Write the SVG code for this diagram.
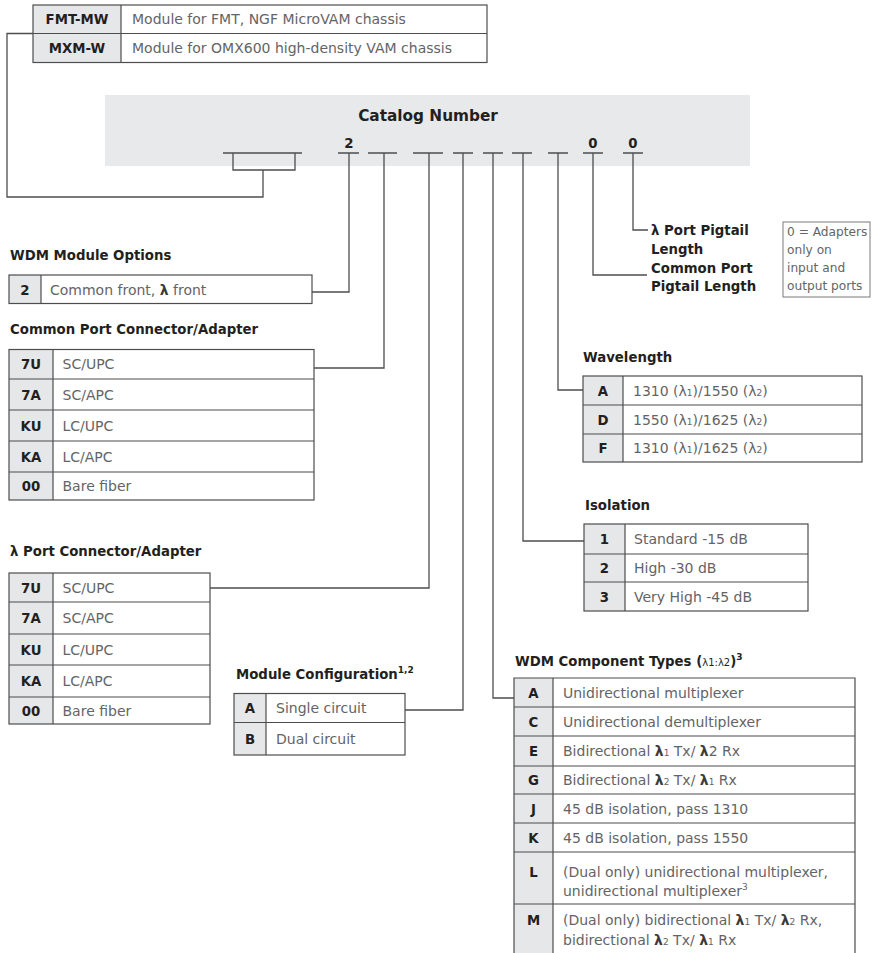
<svg xmlns="http://www.w3.org/2000/svg" width="877" height="953" viewBox="0 0 877 953">
<style>
text { font-family: "DejaVu Sans", "Liberation Sans", sans-serif; }
.h { font-weight: bold; font-size: 13.3px; fill: #231f20; }
.c { font-weight: bold; font-size: 13.3px; fill: #231f20; text-anchor: middle; }
.d { font-size: 14px; fill: #636466; }
.n { font-size: 12.2px; fill: #636466; }
.b { font-weight: bold; fill: #3a3a3a; }
.s { font-size: 9px; }
.tb { fill: none; stroke: #4d4d4d; stroke-width: 1.2; }
.cc { fill: #e6e7e8; }
.ln { fill: none; stroke: #4d4d4d; stroke-width: 1.3; }
</style>
<rect width="877" height="953" fill="#ffffff"/>

<g id="chassis">
<rect class="cc" x="33" y="5" width="88" height="57.5"/>
<rect class="tb" x="33" y="5" width="454" height="57.5"/>
<path class="tb" d="M33,33.5H487M121,5V62.5"/>
<text class="c" x="77" y="24">FMT-MW</text>
<text class="d" x="132" y="24">Module for FMT, NGF MicroVAM chassis</text>
<text class="c" x="77" y="53">MXM-W</text>
<text class="d" x="132" y="53">Module for OMX600 high-density VAM chassis</text>
</g>

<g id="catalog">
<rect x="105" y="95" width="645" height="71" fill="#e8e9ea"/>
<text class="h" x="428" y="121" text-anchor="middle" style="font-size:15.3px">Catalog Number</text>
<text class="c" x="349" y="148">2</text>
<text class="c" x="593" y="148">0</text>
<text class="c" x="633" y="148">0</text>
</g>

<g id="connectors" class="ln">
<path d="M223,153H302M233,153V170H295V153M263,170V197H7V33.5H33"/>
<path d="M338,153H359M349,153V292H312"/>
<path d="M368,153H397M384,153V368H314"/>
<path d="M413,153H443M429,153V588H210"/>
<path d="M453,153H473M463,153V710H405"/>
<path d="M483,153H503M493,153V698H514"/>
<path d="M512,153H532M523,153V541H584"/>
<path d="M548,153H568M558,153V390H583"/>
<path d="M583,153H603M593,153V275H647"/>
<path d="M623,153H643M633,153V230H648"/>
</g>

<g id="pigtail">
<text class="h" x="651" y="235">λ Port Pigtail</text>
<text class="h" x="651" y="254">Length</text>
<text class="h" x="651" y="273">Common Port</text>
<text class="h" x="651" y="291">Pigtail Length</text>
</g>

<g id="note">
<rect x="783" y="222" width="87" height="75" fill="none" stroke="#7a7a7a" stroke-width="1"/>
<text class="n" x="787" y="236">0 = Adapters</text>
<text class="n" x="787" y="254">only on</text>
<text class="n" x="787" y="272">input and</text>
<text class="n" x="787" y="290">output ports</text>
</g>

<g id="wdm-options">
<text class="h" x="10" y="260">WDM Module Options</text>
<rect class="cc" x="9" y="275" width="32" height="28.5"/>
<rect class="tb" x="9" y="275" width="303" height="28.5"/>
<path class="tb" d="M41,275V303.5"/>
<text class="c" x="25" y="294.5">2</text>
<text class="d" x="50" y="294.5">Common front, <tspan class="b">λ</tspan> front</text>
</g>

<g id="common-port">
<text class="h" x="10" y="334">Common Port Connector/Adapter</text>
<rect class="cc" x="9" y="349.5" width="44" height="150.5"/>
<rect class="tb" x="9" y="349.5" width="305" height="150.5"/>
<path class="tb" d="M9,379H314M9,410H314M9,441H314M9,472H314M53,349.5V500"/>
<text class="c" x="31" y="369">7U</text><text class="d" x="62.5" y="369">SC/UPC</text>
<text class="c" x="31" y="399.5">7A</text><text class="d" x="62.5" y="399.5">SC/APC</text>
<text class="c" x="31" y="430.5">KU</text><text class="d" x="62.5" y="430.5">LC/UPC</text>
<text class="c" x="31" y="461.5">KA</text><text class="d" x="62.5" y="461.5">LC/APC</text>
<text class="c" x="31" y="491">00</text><text class="d" x="62.5" y="491">Bare fiber</text>
</g>

<g id="lambda-port">
<text class="h" x="10" y="556">λ Port Connector/Adapter</text>
<rect class="cc" x="9" y="573" width="44" height="151"/>
<rect class="tb" x="9" y="573" width="201" height="151"/>
<path class="tb" d="M9,602H210M9,634H210M9,665H210M9,697H210M53,573V724"/>
<text class="c" x="31" y="592.5">7U</text><text class="d" x="62.5" y="592.5">SC/UPC</text>
<text class="c" x="31" y="623">7A</text><text class="d" x="62.5" y="623">SC/APC</text>
<text class="c" x="31" y="654.5">KU</text><text class="d" x="62.5" y="654.5">LC/UPC</text>
<text class="c" x="31" y="686">KA</text><text class="d" x="62.5" y="686">LC/APC</text>
<text class="c" x="31" y="715.5">00</text><text class="d" x="62.5" y="715.5">Bare fiber</text>
</g>

<g id="module-config">
<text class="h" x="236" y="679">Module Configuration<tspan class="s" dy="-6">1,2</tspan></text>
<rect class="cc" x="234" y="693.5" width="32" height="61.5"/>
<rect class="tb" x="234" y="693.5" width="171" height="61.5"/>
<path class="tb" d="M234,722.5H405M266,693.5V755"/>
<text class="c" x="250" y="713">A</text><text class="d" x="276" y="713">Single circuit</text>
<text class="c" x="250" y="744">B</text><text class="d" x="276" y="744">Dual circuit</text>
</g>

<g id="wavelength">
<text class="h" x="583" y="362">Wavelength</text>
<rect class="cc" x="583" y="376" width="40" height="86"/>
<rect class="tb" x="583" y="376" width="279" height="86"/>
<path class="tb" d="M583,405H862M583,434H862M623,376V462"/>
<text class="c" x="603" y="395.5">A</text><text class="d" x="633" y="395.5">1310 (λ<tspan class="s">1</tspan>)/1550 (λ<tspan class="s">2</tspan>)</text>
<text class="c" x="603" y="424.5">D</text><text class="d" x="633" y="424.5">1550 (λ<tspan class="s">1</tspan>)/1625 (λ<tspan class="s">2</tspan>)</text>
<text class="c" x="603" y="453">F</text><text class="d" x="633" y="453">1310 (λ<tspan class="s">1</tspan>)/1625 (λ<tspan class="s">2</tspan>)</text>
</g>

<g id="isolation">
<text class="h" x="585" y="510">Isolation</text>
<rect class="cc" x="584" y="524" width="41" height="87"/>
<rect class="tb" x="584" y="524" width="224" height="87"/>
<path class="tb" d="M584,554H808M584,582H808M625,524V611"/>
<text class="c" x="604.5" y="544">1</text><text class="d" x="634" y="544">Standard -15 dB</text>
<text class="c" x="604.5" y="573">2</text><text class="d" x="634" y="573">High -30 dB</text>
<text class="c" x="604.5" y="601.5">3</text><text class="d" x="634" y="601.5">Very High -45 dB</text>
</g>

<g id="component-types">
<text class="h" x="515" y="666">WDM Component Types (<tspan style="font-weight:normal;font-size:10px">λ1:λ2</tspan>)<tspan class="s" dy="-6">3</tspan></text>
<rect class="cc" x="514" y="678" width="39" height="285"/>
<path class="tb" d="M514,963V678H855V963"/>
<path class="tb" d="M514,707H855M514,736H855M514,766H855M514,794H855M514,823H855M514,852H855M514,904H855M553,678V963"/>
<text class="c" x="533.5" y="697.5">A</text><text class="d" x="563" y="697.5">Unidirectional multiplexer</text>
<text class="c" x="533.5" y="726.5">C</text><text class="d" x="563" y="726.5">Unidirectional demultiplexer</text>
<text class="c" x="533.5" y="756">E</text><text class="d" x="563" y="756">Bidirectional <tspan class="b">λ</tspan><tspan class="s">1</tspan> Tx/ <tspan class="b">λ</tspan>2 Rx</text>
<text class="c" x="533.5" y="785">G</text><text class="d" x="563" y="785">Bidirectional <tspan class="b">λ</tspan><tspan class="s">2</tspan> Tx/ <tspan class="b">λ</tspan><tspan class="s">1</tspan> Rx</text>
<text class="c" x="533.5" y="813.5">J</text><text class="d" x="563" y="813.5">45 dB isolation, pass 1310</text>
<text class="c" x="533.5" y="842.5">K</text><text class="d" x="563" y="842.5">45 dB isolation, pass 1550</text>
<text class="c" x="533.5" y="876.5">L</text><text class="d" x="563" y="876.5">(Dual only) unidirectional multiplexer,</text>
<text class="d" x="563" y="895.5">unidirectional multiplexer<tspan class="s" dy="-6">3</tspan></text>
<text class="c" x="533.5" y="925">M</text><text class="d" x="563" y="925">(Dual only) bidirectional <tspan class="b">λ</tspan><tspan class="s">1</tspan> Tx/ <tspan class="b">λ</tspan><tspan class="s">2</tspan> Rx,</text>
<text class="d" x="563" y="945">bidirectional <tspan class="b">λ</tspan><tspan class="s">2</tspan> Tx/ <tspan class="b">λ</tspan><tspan class="s">1</tspan> Rx</text>
</g>
</svg>
